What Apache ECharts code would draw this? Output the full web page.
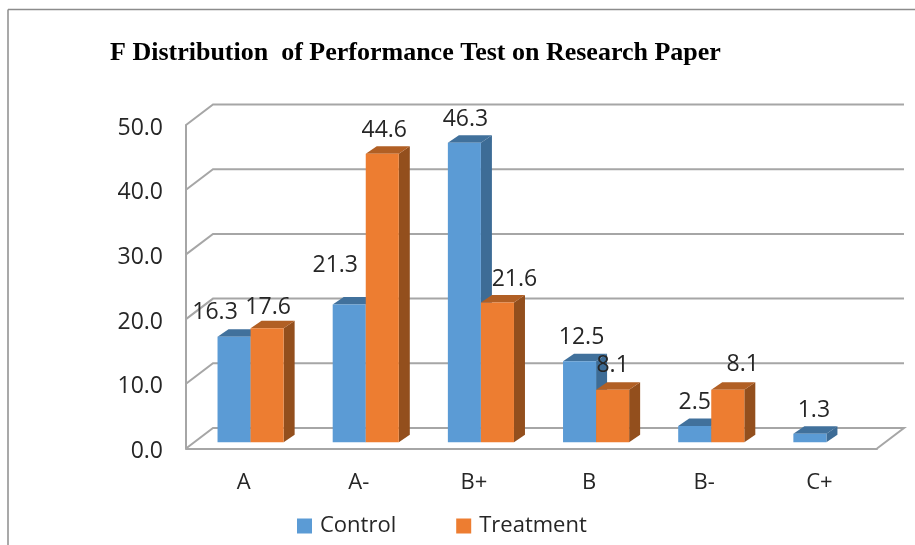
<!DOCTYPE html>
<html>
<head>
<meta charset="utf-8">
<style>
  html, body { margin: 0; padding: 0; background: #fff; }
  #chart { width: 915px; height: 545px; }
</style>
<script src="https://cdn.jsdelivr.net/npm/echarts@6/dist/echarts.min.js"></script>
</head>
<body>
<div id="chart"></div>
<script>
// Data
const categories = ["A", "A-", "B+", "B", "B-", "C+"];
const controlValues = [16.3, 21.3, 46.3, 12.5, 2.5, 1.3];
const treatmentValues = [17.6, 44.6, 21.6, 8.1, 8.1, null];
const yTicks = [0, 10, 20, 30, 40, 50];

// Hand-placed value labels: offset from the front top centre of each bar
const controlLabelShift = [[-19, -24], [-14, -39], [1, -23], [2, -24], [0, -24], [4, -23]];
const treatmentLabelShift = [[1, -21], [2, -23], [17, -23], [0, -24], [15, -25], [0, 0]];

const textColor = "#262626";
const lineColor = "#a6a6a6";
const fontName = "'Open Sans', sans-serif";

// 3D look: the grid is the front plane, the wall sits behind it
const wallDx = 27, wallDy = -20.5;   // front plane -> back wall
const barDx = 7, barDy = -6.3;       // front plane -> bar front faces
const depthDx = 11, depthDy = -7.5;  // depth of one bar
const barShare = 0.287;              // bar width as a share of the category band

// Gridlines: short diagonal on the left, then the long line on the back wall
function renderWall(params, api) {
    const y = api.coord([0, api.value(0)])[1];
    const left = params.coordSys.x;
    const right = left + params.coordSys.width;
    const points = [[left, y], [left + wallDx, y + wallDy], [right + wallDx, y + wallDy]];
    if (api.value(0) === 0) points.push([right, y]); // closes the floor
    return {
        type: "polyline",
        shape: { points: points },
        style: { stroke: lineColor, lineWidth: 2, fill: null }
    };
}

function makeBarRender(side, front, top, dark) {
    return function (params, api) {
        const value = api.value(1);
        if (value == null || isNaN(value)) return null;
        const index = api.value(0);
        const start = api.coord([index, 0]);
        const end = api.coord([index, value]);
        const w = api.size([1, 0])[0] * barShare;
        const x0 = start[0] + barDx + side * w;
        const x1 = x0 + w;
        const yb = start[1] + barDy;
        const yt = end[1] + barDy;
        return {
            type: "group",
            children: [
                { type: "polygon", shape: { points: [[x1, yt], [x1 + depthDx, yt + depthDy], [x1 + depthDx, yb + depthDy], [x1, yb]] }, style: { fill: dark } },
                { type: "polygon", shape: { points: [[x0, yt], [x0 + depthDx, yt + depthDy], [x1 + depthDx, yt + depthDy], [x1, yt]] }, style: { fill: top } },
                { type: "rect", shape: { x: x0, y: yt, width: w, height: yb - yt }, style: { fill: front } }
            ]
        };
    };
}

// Labels go in their own series so no bar can cover them
function makeLabelRender(side, shifts) {
    return function (params, api) {
        const value = api.value(1);
        if (value == null || isNaN(value)) return null;
        const index = api.value(0);
        const end = api.coord([index, value]);
        const w = api.size([1, 0])[0] * barShare;
        const shift = shifts[index];
        return {
            type: "text",
            z2: 100,
            style: {
                x: end[0] + barDx + side * w + w / 2 + shift[0],
                y: end[1] + barDy + shift[1],
                text: value.toFixed(1),
                fill: textColor,
                font: "23px " + fontName,
                textAlign: "center",
                textVerticalAlign: "middle"
            }
        };
    };
}

const toPairs = (values) => values.map((v, i) => [i, v]);
const barEncode = { x: 0, y: 1 };

const chart = echarts.init(document.getElementById("chart"));
chart.setOption({
    animation: false,
    backgroundColor: "#fff",
    title: {
        text: "F Distribution  of Performance Test on Research Paper",
        left: 105,
        top: 35,
        textStyle: { fontFamily: "'Liberation Serif', serif", fontWeight: "bold", fontSize: 26, color: "#000" }
    },
    grid: { left: 186, right: 38, top: 125, height: 323.5 },
    legend: {
        left: 292,
        top: 510,
        icon: "rect",
        itemWidth: 15,
        itemHeight: 15,
        itemGap: 60,
        data: ["Control", "Treatment"],
        textStyle: { fontFamily: fontName, fontSize: 22, color: textColor, padding: [0, 0, 0, 3] }
    },
    xAxis: {
        type: "category",
        data: categories,
        axisTick: { show: false },
        axisLine: { show: true, lineStyle: { color: lineColor, width: 2 } },
        axisLabel: { margin: 23, fontFamily: fontName, fontSize: 22, color: textColor }
    },
    yAxis: {
        type: "value",
        min: 0,
        max: 50,
        interval: 10,
        splitLine: { show: false },
        axisTick: { show: false },
        axisLine: { show: true, lineStyle: { color: lineColor, width: 2 } },
        axisLabel: { margin: 23, fontFamily: fontName, fontSize: 23, color: textColor, verticalAlign: "top", lineHeight: 6, formatter: (v) => v.toFixed(1) }
    },
    // Frame of the pasted chart: only top and left show
    graphic: [
        { type: "line", shape: { x1: 8, y1: 9.5, x2: 915, y2: 9.5 }, style: { stroke: "#8c8c8c", lineWidth: 1.5 } },
        { type: "line", shape: { x1: 8, y1: 9.5, x2: 8, y2: 545 }, style: { stroke: "#8c8c8c", lineWidth: 1.5 } }
    ],
    series: [
        {
            name: "wall",
            type: "custom",
            z: 1,
            silent: true,
            renderItem: renderWall,
            encode: { y: 0 },
            data: yTicks.map((v) => [v])
        },
        {
            name: "Control",
            type: "custom",
            z: 2,
            itemStyle: { color: "#5b9bd5" },
            renderItem: makeBarRender(-1, "#5b9bd5", "#41719c", "#3d6c96"),
            encode: barEncode,
            data: toPairs(controlValues)
        },
        {
            name: "Treatment",
            type: "custom",
            z: 3,
            itemStyle: { color: "#ed7d31" },
            renderItem: makeBarRender(0, "#ed7d31", "#b15f24", "#934f1d"),
            encode: barEncode,
            data: toPairs(treatmentValues)
        },
        {
            name: "controlLabels",
            type: "custom",
            z: 5,
            silent: true,
            renderItem: makeLabelRender(-1, controlLabelShift),
            encode: barEncode,
            data: toPairs(controlValues)
        },
        {
            name: "treatmentLabels",
            type: "custom",
            z: 5,
            silent: true,
            renderItem: makeLabelRender(0, treatmentLabelShift),
            encode: barEncode,
            data: toPairs(treatmentValues)
        }
    ]
});
</script>
</body>
</html>
